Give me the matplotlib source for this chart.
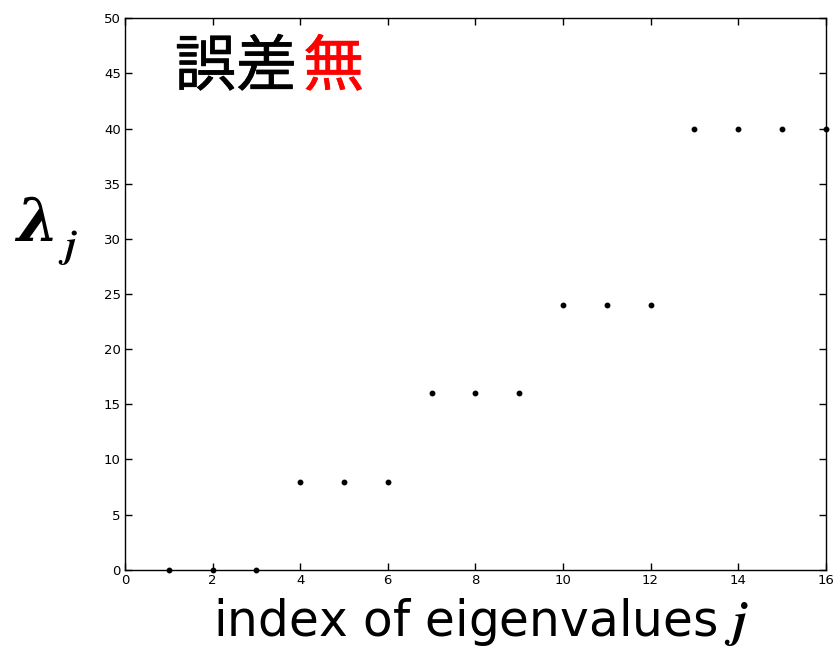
import matplotlib.pyplot as plt
import matplotlib.patheffects as pe
import numpy as np

# eigenvalue index and values
index_j = [1, 2, 3, 4, 5, 6, 7, 8, 9, 10, 11, 12, 13, 14, 15, 16]
eigenvalues = [0, 0, 0, 8, 8, 8, 16, 16, 16, 24, 24, 24, 40, 40, 40, 40]
x_ticks = [0, 2, 4, 6, 8, 10, 12, 14, 16]
y_ticks = [0, 5, 10, 15, 20, 25, 30, 35, 40, 45, 50]

plt.rcParams["mathtext.fontset"] = "cm"

fig = plt.figure(figsize=(8.34, 6.49), dpi=100)
ax = fig.add_axes([0.150, 0.122, 0.840, 0.850])

ax.plot(index_j, eigenvalues, "o", color="black", markersize=3.2, clip_on=False, zorder=3)

ax.set_xlim(0, 16)
ax.set_ylim(0, 50)
ax.set_xticks(x_ticks)
ax.set_yticks(y_ticks)
ax.tick_params(direction="in", length=5, width=1, labelsize=9.5, pad=3,
               top=True, right=True, labeltop=False, labelright=False)
for spine in ax.spines.values():
    spine.set_linewidth(1)

# title inside the axes: black + red characters (slightly thickened strokes)
cjk = ["Noto Sans CJK JP", "DejaVu Sans"]
ax.text(0.071, 0.966, "誤差", transform=ax.transAxes, fontsize=44, family=cjk,
        color="black", va="top", ha="left",
        path_effects=[pe.withStroke(linewidth=0.5, foreground="black")])
ax.text(0.254, 0.966, "無", transform=ax.transAxes, fontsize=44, family=cjk,
        color="red", va="top", ha="left",
        path_effects=[pe.withStroke(linewidth=0.5, foreground="red")])

fig.text(0.577, 0.042, r"index of eigenvalues $\mathbfit{j}$", fontsize=35,
         family=["DejaVu Sans"], ha="center", va="center")

# y label: bold italic lambda with subscript j
fig.text(0.044, 0.655, "λ", fontsize=43, family="DejaVu Serif",
         fontweight="bold", fontstyle="italic", ha="center", va="center")
fig.text(0.082, 0.618, r"$\mathbfit{j}$", fontsize=28, ha="center", va="center")

plt.savefig("out.png", dpi=100)
